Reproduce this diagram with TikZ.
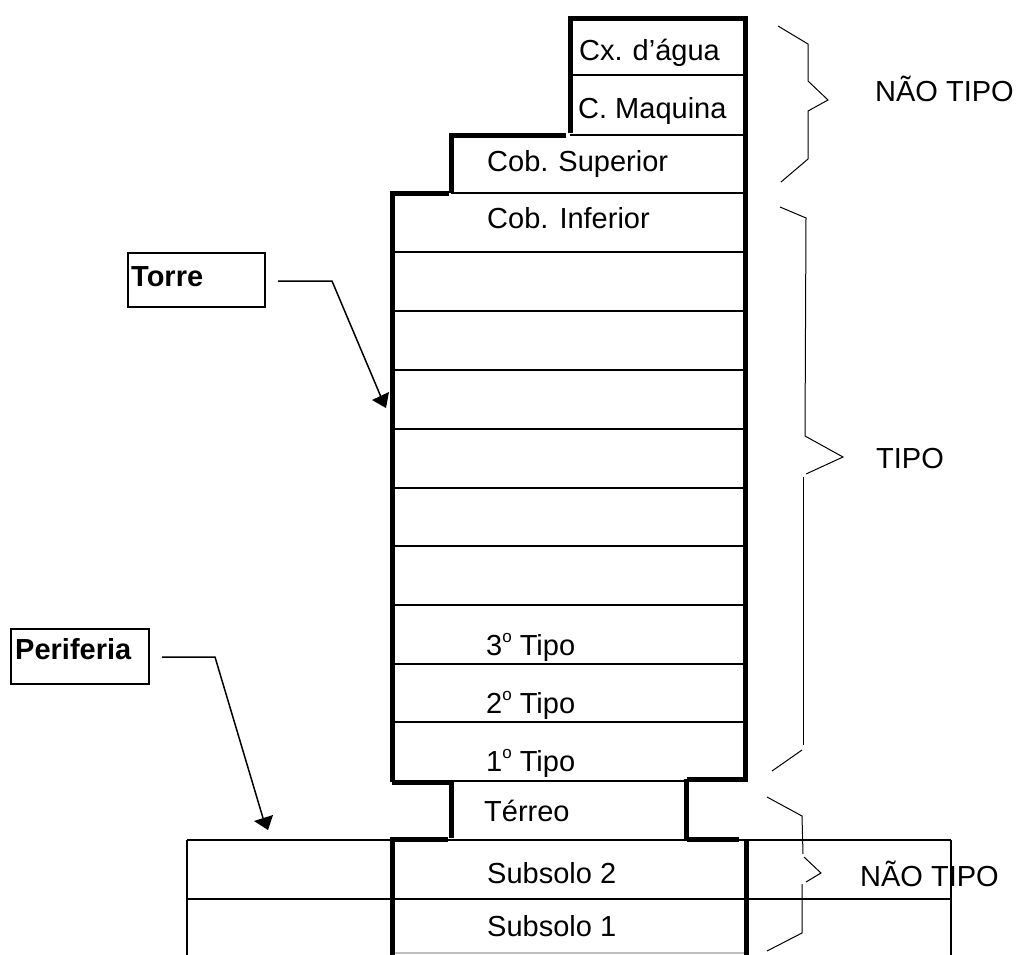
\documentclass[tikz,border=0pt]{standalone}
\usepackage{fontspec}
\setmainfont{Liberation Sans}
\tikzset{
  floorline/.style={line width=2pt,black},
  wall/.style={line width=5pt,black,line cap=butt,line join=miter},
  bracket/.style={line width=1pt,black,line join=miter},
  lead/.style={line width=1.5pt,black},
  headfill/.style={fill=black,draw=none},
  lab/.style={font=\fontsize{29}{32}\selectfont,inner sep=0pt,anchor=base west},
  boxlab/.style={font=\fontsize{29}{32}\selectfont\bfseries,inner sep=0pt,anchor=base west},
  callout/.style={draw=black,line width=2pt,fill=none},
}
\frenchspacing
\begin{document}
\begin{tikzpicture}[x=1pt,y=-1pt]
\useasboundingbox (0,0) rectangle (1018,954);
\begin{scope}
\clip (0,0) rectangle (1018,954);
% floor lines
\draw[floorline] (570,75) -- (745,75);
\draw[floorline] (570,135) -- (745,135);
\draw[floorline] (451,193) -- (745,193);
\foreach \yy in {252,311,370,429,488,546,605,664,722,781}{\draw[floorline] (392,\yy) -- (745,\yy);}
% periphery
\draw[floorline] (187,840) -- (951,840);
\draw[floorline] (187,899) -- (951,899);
\draw[floorline] (187,840) -- (187,960);
\draw[floorline] (951,840) -- (951,960);
\draw[line width=1.5pt,black!25] (395,953) -- (744,953);
% walls
\draw[wall] (570,133) -- (570,18) -- (745,18) -- (745,782);
\draw[wall] (451,193) -- (451,135) -- (566,135);
\draw[wall] (392,782) -- (392,193) -- (449,193);
\draw[wall] (392,782) -- (449,782);
\draw[wall] (687,779) -- (743,779);
\draw[wall] (451,781) -- (451,838);
\draw[wall] (686.5,779) -- (686.5,840);
\draw[wall] (390,839.5) -- (448,839.5);
\draw[wall] (686.5,839.5) -- (739,839.5);
\draw[wall] (392,840) -- (392,960);
\draw[wall] (746,840) -- (746,960);
\end{scope}
% labels
\node[lab] (cx) at (579,60) {Cx.\hspace{2pt} d’água};
\node[lab] (cm) at (578,118) {C. Maquina};
\node[lab] (cs) at (487,171) {Cob.\hspace{2pt} Superior};
\node[lab] (ci) at (487,228) {Cob.\hspace{3pt} Inferior};
\node[lab] (t3) at (486,655) {3\raisebox{0.42em}{\fontsize{17}{17}\selectfont o} Tipo};
\node[lab] (t2) at (486,713) {2\raisebox{0.42em}{\fontsize{17}{17}\selectfont o} Tipo};
\node[lab] (t1) at (486,771) {1\raisebox{0.42em}{\fontsize{17}{17}\selectfont o} Tipo};
\node[lab] (te) at (484,821) {Térreo};
\node[lab] (s2) at (487,883) {Subsolo 2};
\node[lab] (s1) at (487,936) {Subsolo 1};
\node[lab] (nt1) at (875,101) {NÃO TIPO};
\node[lab] (tp) at (876,468) {TIPO};
\node[lab] (nt2) at (860,886.5) {NÃO TIPO};
% callout boxes
\node[callout,minimum width=137pt,minimum height=54pt,anchor=north west,inner sep=0pt] (torrebox) at (127,252) {};
\node[boxlab] (torre) at (131,286) {Torre};
\node[callout,minimum width=138pt,minimum height=55pt,anchor=north west,inner sep=0pt] (perbox) at (10,628) {};
\node[boxlab] (per) at (15,659) {Periferia};
% leaders
\coordinate (a0) at (278,281);
\coordinate (a1) at (332,281);
\coordinate (a2) at (381,397);
\coordinate (at) at (386,408);
\draw[lead,line join=miter] (a0) -- (a1) -- (a2);
\fill[headfill] (372,400) -- (389,392) -- (at) -- cycle;
\coordinate (b0) at (162,657);
\coordinate (b1) at (215,657);
\coordinate (b2) at (263,818);
\coordinate (bt) at (268,830);
\draw[lead,line join=miter] (b0) -- (b1) -- (b2);
\fill[headfill] (254,821) -- (273,815) -- (bt) -- cycle;
% brackets
\draw[bracket] (778,26) -- (808,44) -- (808,81) -- (828,100) -- (808,111) -- (808,159) -- (781,182);
\draw[bracket] (780,207) -- (806,218) -- (805,436) -- (843,457) -- (806,474);
\draw[bracket] (803,477) -- (803,745);
\draw[bracket] (802,750) -- (772,771);
\draw[bracket] (767,797) -- (802,816) -- (803,854);
\draw[bracket] (804,857) -- (821,873) -- (806,882);
\draw[bracket] (802,884) -- (802,933) -- (767,951);
\end{tikzpicture}
\end{document}
